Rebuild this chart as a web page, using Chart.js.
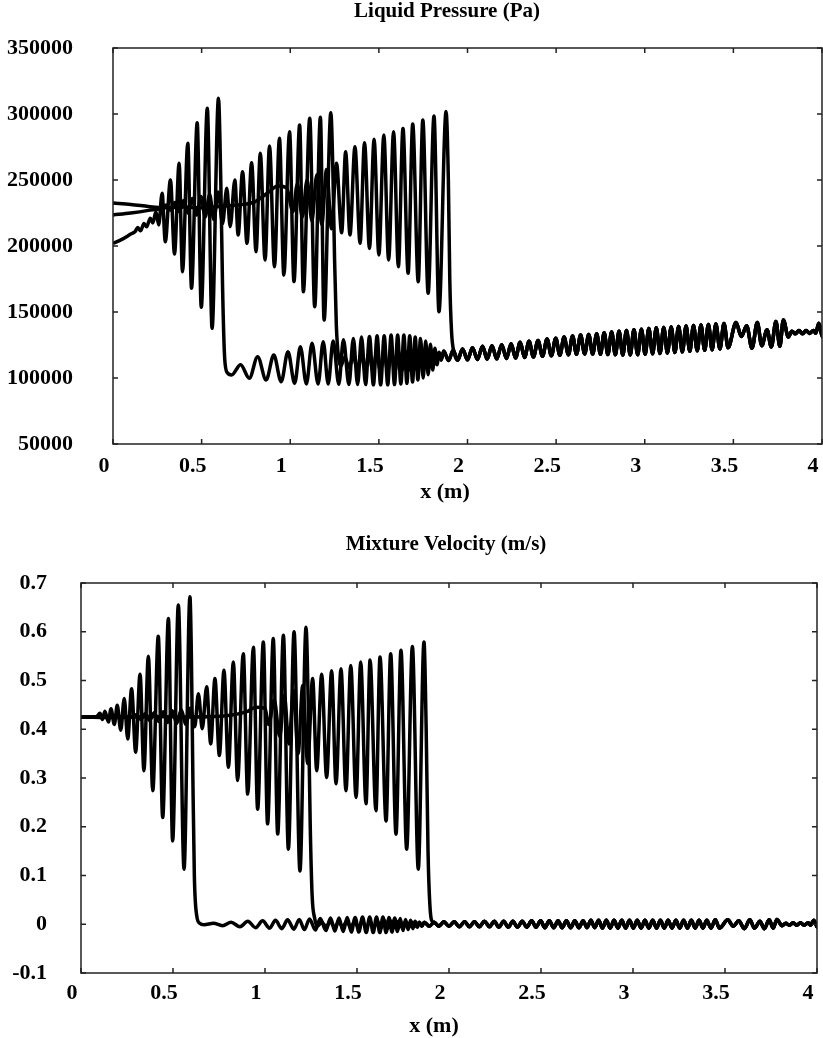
<!DOCTYPE html>
<html>
<head>
<meta charset="utf-8">
<script src="https://cdn.jsdelivr.net/npm/chart.js@4.4.1/dist/chart.umd.min.js"></script>
<style>
  body { margin: 0; background: #fff; }
  canvas { position: absolute; left: 0; }
  #pressure { top: 0; }
  #velocity { top: 528px; }
</style>
</head>
<body>
<canvas id="pressure" width="823" height="510"></canvas>
<canvas id="velocity" width="823" height="510"></canvas>
<script>
// ---- shared x positions (m) ----
// front A (wave front near 0.63 m), read peak by peak
var aHeadX_p = [0, 0.05, 0.10, 0.125, 0.14, 0.155, 0.175, 0.19, 0.21, 0.225, 0.242, 0.258,
  0.277, 0.295, 0.324, 0.347, 0.373, 0.392, 0.422, 0.443, 0.475, 0.498, 0.532, 0.559, 0.595,
  0.608, 0.618, 0.630, 0.645];
var aHeadP = [202000, 205000, 209000, 211000, 214000, 211500, 217000, 214500, 221000, 217500, 226000, 216000,
  240000, 203300, 250000, 194000, 262600, 180500, 277800, 168000, 293400, 153600, 304300, 137600, 311900,
  250000, 170000, 115000, 104000];

var aHeadX_u = [0, 0.05, 0.085, 0.103, 0.116, 0.130, 0.149, 0.163, 0.181, 0.197, 0.216, 0.235, 0.254,
  0.275, 0.297, 0.321, 0.342, 0.366, 0.390, 0.420, 0.444, 0.475, 0.498, 0.529, 0.560, 0.592,
  0.600, 0.608, 0.616, 0.628, 0.645];
var aHeadU = [0.425, 0.425, 0.426, 0.433, 0.420, 0.437, 0.415, 0.442, 0.410, 0.449, 0.398, 0.463, 0.380,
  0.483, 0.353, 0.513, 0.315, 0.550, 0.274, 0.591, 0.219, 0.627, 0.171, 0.655, 0.113, 0.672,
  0.55, 0.30, 0.10, 0.02, 0.002];

// region after front A (same x for pressure and velocity)
var aMidX = [0.669, 0.720, 0.769, 0.816, 0.864, 0.907, 0.949, 0.987, 1.025, 1.057,
  1.091, 1.123, 1.157, 1.186, 1.214, 1.242, 1.274, 1.300, 1.331, 1.356,
  1.380, 1.402, 1.425, 1.447, 1.469, 1.490, 1.510, 1.530, 1.550, 1.569,
  1.588, 1.606, 1.624, 1.641, 1.658, 1.674, 1.690, 1.705, 1.720, 1.735,
  1.750, 1.764, 1.778, 1.791, 1.804, 1.816, 1.828, 1.840, 1.852];
var aMidP = [102300, 110000, 99800, 116100, 98500, 117400, 97200, 119900, 96000, 123700,
  95500, 126300, 95500, 127500, 95500, 128000, 95300, 129000, 95000, 130000,
  95000, 131000, 95000, 131500, 94800, 132000, 94800, 132000, 94800, 132500,
  95000, 132500, 95500, 132500, 96000, 132000, 97000, 131000, 98500, 130000,
  100000, 128000, 102500, 125500, 106000, 122500, 110000, 119500, 114000];
var aMidU = [-0.001, 0.002, -0.003, 0.004, -0.005, 0.006, -0.007, 0.007, -0.008, 0.008,
  -0.009, 0.009, -0.010, 0.010, -0.011, 0.011, -0.012, 0.012, -0.013, 0.013,
  -0.014, 0.013, -0.015, 0.014, -0.016, 0.014, -0.016, 0.015, -0.017, 0.015,
  -0.017, 0.015, -0.017, 0.015, -0.017, 0.014, -0.016, 0.013, -0.015, 0.012,
  -0.013, 0.010, -0.011, 0.008, -0.009, 0.006, -0.006, 0.004, -0.004];

// front B (near 1.27 m)
var bHeadX_p = [0, 0.10, 0.20, 0.28,
  0.300, 0.324, 0.349, 0.373, 0.398, 0.422, 0.447, 0.471, 0.496, 0.520, 0.545, 0.569, 0.594, 0.618, 0.642,
  0.661, 0.6875, 0.706, 0.731, 0.756, 0.782, 0.807, 0.831, 0.858, 0.883, 0.911, 0.939, 0.964, 0.996,
  1.021, 1.053, 1.074, 1.110, 1.138, 1.170, 1.191, 1.229,
  1.240, 1.250, 1.260, 1.272];
var bHeadP = [223500, 225000, 227000, 229000,
  231000, 227000, 233000, 226000, 234500, 225000, 236000, 223500, 237500, 222000, 239000, 220000, 241000, 217000, 243700,
  214600, 250000, 208300, 256300, 202000, 263100, 195700, 270200, 189400, 275800, 184300, 281600, 178000, 286600,
  173000, 291700, 165400, 296700, 154000, 297500, 143900, 301000,
  260000, 190000, 140000, 116000];

var bHeadX_u = [0, 0.10, 0.20, 0.28,
  0.300, 0.324, 0.349, 0.373, 0.398, 0.422, 0.447, 0.471, 0.496, 0.520, 0.545, 0.569, 0.594, 0.618,
  0.638, 0.659, 0.683, 0.705, 0.728, 0.752, 0.777, 0.801, 0.828, 0.851, 0.882, 0.906, 0.937, 0.960,
  0.991, 1.014, 1.045, 1.069, 1.100, 1.127, 1.158, 1.190, 1.223,
  1.235, 1.246, 1.256, 1.270];
var bHeadU = [0.425, 0.425, 0.425, 0.426,
  0.430, 0.420, 0.432, 0.418, 0.434, 0.416, 0.436, 0.414, 0.438, 0.412, 0.440, 0.410, 0.443, 0.405,
  0.473, 0.401, 0.487, 0.370, 0.504, 0.346, 0.521, 0.322, 0.538, 0.295, 0.555, 0.267, 0.568, 0.236,
  0.579, 0.206, 0.586, 0.185, 0.593, 0.154, 0.600, 0.109, 0.609,
  0.45, 0.20, 0.06, 0.012];

var bPostX = [1.285, 1.308, 1.332, 1.355, 1.378, 1.400, 1.422, 1.444, 1.466, 1.487,
  1.508, 1.529, 1.550, 1.570, 1.590, 1.610, 1.630, 1.650, 1.669, 1.688,
  1.707, 1.726, 1.745, 1.764, 1.783, 1.802, 1.821, 1.838, 1.852];
var bPostP = [109000, 116000, 107500, 117000, 106500, 118000, 106000, 118500, 105500, 119000,
  105500, 119500, 105000, 120000, 105000, 120000, 105500, 120000, 106000, 119500,
  107000, 119000, 108000, 118500, 109500, 118000, 111000, 118000, 113500];
var bPostU = [-0.004, 0.004, -0.005, 0.005, -0.006, 0.005, -0.006, 0.006, -0.007, 0.006,
  -0.007, 0.007, -0.008, 0.007, -0.008, 0.007, -0.008, 0.007, -0.008, 0.006,
  -0.007, 0.006, -0.006, 0.005, -0.005, 0.004, -0.004, 0.004, -0.004];

// front C (near 1.93 m)
var cHeadX_p = [0, 0.10, 0.20, 0.28, 0.40, 0.50, 0.60, 0.70, 0.80, 0.87, 0.93, 0.98,
  1.015, 1.040, 1.068, 1.095, 1.122, 1.150, 1.178, 1.205, 1.233, 1.261, 1.290,
  1.3125, 1.337, 1.365, 1.394, 1.419, 1.447, 1.473, 1.500, 1.528, 1.555, 1.583, 1.610, 1.636,
  1.665, 1.691, 1.722, 1.748, 1.778, 1.811, 1.839, 1.879,
  1.892, 1.900, 1.910, 1.925];
var cHeadP = [232500, 231500, 230000, 229000, 229500, 229000, 230000, 231000, 233500, 240000, 245500, 244000,
  226000, 247000, 222000, 250000, 219000, 254000, 216000, 258000, 213000, 262600, 210000,
  271400, 208300, 275200, 202000, 278300, 198200, 280800, 193200, 284100, 189400, 286600, 184300, 289100,
  179300, 292400, 173000, 295500, 164200, 298500, 150200, 301800,
  250000, 175000, 135000, 119000];

var cHeadX_u = [0, 0.20, 0.40, 0.60, 0.80, 0.90, 0.95, 1.00,
  1.020, 1.050, 1.080, 1.105, 1.130, 1.155, 1.180, 1.205, 1.232,
  1.259, 1.281, 1.308, 1.335, 1.362, 1.386, 1.413, 1.440, 1.466, 1.495, 1.520, 1.549,
  1.571, 1.603, 1.625, 1.658, 1.683, 1.712, 1.739, 1.770, 1.801, 1.833, 1.864,
  1.876, 1.886, 1.896, 1.910];
var cHeadU = [0.425, 0.424, 0.426, 0.425, 0.428, 0.436, 0.445, 0.443,
  0.410, 0.460, 0.385, 0.470, 0.370, 0.480, 0.350, 0.490, 0.330,
  0.504, 0.315, 0.513, 0.301, 0.520, 0.288, 0.524, 0.274, 0.531, 0.260, 0.538, 0.247,
  0.542, 0.233, 0.548, 0.212, 0.555, 0.185, 0.562, 0.154, 0.570, 0.113, 0.579,
  0.40, 0.15, 0.04, 0.005];

// ripples ahead of the last front, shared by the three curves
var tailX = [1.866, 1.893, 1.919, 1.945, 1.972, 2.000, 2.028, 2.056, 2.085, 2.111,
  2.138, 2.165, 2.193, 2.220, 2.246, 2.271, 2.297, 2.322, 2.347, 2.372,
  2.398, 2.423, 2.449, 2.473, 2.498, 2.521, 2.545, 2.569, 2.593, 2.615,
  2.638, 2.661, 2.684, 2.706, 2.729, 2.750, 2.771, 2.792, 2.813, 2.834,
  2.855, 2.876, 2.897, 2.918, 2.939, 2.960, 2.981, 3.002, 3.023, 3.044,
  3.065, 3.086, 3.107, 3.128, 3.149, 3.170, 3.191, 3.212, 3.233, 3.254,
  3.275, 3.296, 3.317, 3.338, 3.359, 3.380, 3.401, 3.424, 3.447, 3.470,
  3.515, 3.545, 3.575, 3.605, 3.635, 3.660, 3.690, 3.714, 3.740, 3.762,
  3.782, 3.810, 3.830, 3.850, 3.870, 3.890, 3.910, 3.930, 3.952, 3.965,
  3.982, 4.003, 4.025];
var tailP = [120500, 113200, 121000, 113500, 122000, 113800, 123000, 114000, 124000, 114300,
  124500, 114500, 125200, 114800, 126000, 115200, 127000, 115600, 127800, 116000,
  128500, 116400, 129500, 116800, 130200, 117200, 131000, 117600, 131800, 118000,
  132500, 118200, 133000, 118100, 133500, 118000, 134200, 117800, 134800, 117600,
  135400, 117400, 136000, 117500, 136500, 117700, 137000, 118000, 137500, 118300,
  138000, 118600, 138300, 119000, 138700, 119400, 139000, 119800, 139400, 120200,
  139800, 120600, 140200, 121000, 140600, 121400, 141000, 122000, 141300, 123000,
  142000, 131500, 139500, 122500, 142000, 124500, 136500, 123500, 142800, 124000,
  144000, 131000, 135500, 133500, 136000, 133500, 136000, 133800, 136000, 134000,
  141500, 131000, 137000];
var tailU = [0.004, -0.004, 0.004, -0.004, 0.005, -0.004, 0.005, -0.005, 0.005, -0.005,
  0.005, -0.005, 0.006, -0.005, 0.006, -0.006, 0.006, -0.006, 0.006, -0.006,
  0.006, -0.006, 0.007, -0.006, 0.007, -0.007, 0.007, -0.007, 0.007, -0.007,
  0.007, -0.007, 0.007, -0.007, 0.007, -0.007, 0.008, -0.007, 0.008, -0.008,
  0.008, -0.008, 0.008, -0.008, 0.008, -0.008, 0.008, -0.008, 0.008, -0.008,
  0.008, -0.008, 0.008, -0.008, 0.008, -0.008, 0.008, -0.008, 0.008, -0.008,
  0.008, -0.008, 0.008, -0.008, 0.008, -0.008, 0.008, -0.008, 0.009, -0.008,
  0.009, -0.004, 0.007, -0.009, 0.009, -0.008, 0.006, -0.009, 0.009, -0.008,
  0.010, -0.003, 0.002, -0.002, 0.003, -0.002, 0.003, -0.002, 0.003, -0.002,
  0.008, -0.006, 0.004];

var xTicks = [0, 0.5, 1, 1.5, 2, 2.5, 3, 3.5, 4];

function pts(xs, ys) {
  return xs.map(function (x, i) { return { x: x, y: ys[i] }; });
}
function after(xs, ys, x0) {
  return pts(xs, ys).filter(function (p) { return p.x > x0; });
}

var serif = '"Liberation Serif", "DejaVu Serif", serif';
Chart.defaults.font.family = serif;
Chart.defaults.color = '#000';

// frame with inward ticks on all sides + chart titles
function framePlugin(title, tx, ty, xTitle, xx, xy) {
  return {
    id: 'frame',
    afterDraw: function (chart) {
      var ctx = chart.ctx, a = chart.chartArea, sx = chart.scales.x, sy = chart.scales.y;
      ctx.save();
      ctx.strokeStyle = '#222';
      ctx.lineWidth = 1.5;
      ctx.strokeRect(a.left, a.top, a.right - a.left, a.bottom - a.top);
      ctx.beginPath();
      sx.ticks.forEach(function (t) {
        var p = sx.getPixelForValue(t.value);
        ctx.moveTo(p, a.bottom); ctx.lineTo(p, a.bottom - 5);
        ctx.moveTo(p, a.top); ctx.lineTo(p, a.top + 5);
      });
      sy.ticks.forEach(function (t) {
        var p = sy.getPixelForValue(t.value);
        ctx.moveTo(a.left, p); ctx.lineTo(a.left + 5, p);
        ctx.moveTo(a.right, p); ctx.lineTo(a.right - 5, p);
      });
      ctx.stroke();
      ctx.fillStyle = '#000';
      ctx.textAlign = 'center';
      ctx.textBaseline = 'middle';
      ctx.font = 'bold 21px ' + serif;
      ctx.fillText(title, tx, ty);
      ctx.font = 'bold 22px ' + serif;
      ctx.fillText(xTitle, xx, xy);
      ctx.restore();
    }
  };
}

function line(data) {
  return {
    data: data,
    borderColor: '#000',
    borderWidth: 3.5,
    pointRadius: 0,
    fill: false,
    cubicInterpolationMode: 'monotone'
  };
}

function makeChart(id, datasets, yopt, box, plugin) {
  return new Chart(document.getElementById(id), {
    type: 'line',
    data: { datasets: datasets },
    options: {
      responsive: false,
      animation: false,
      devicePixelRatio: 1,
      layout: { padding: { top: box.top, right: box.right, left: 0, bottom: 0 } },
      plugins: { legend: { display: false }, tooltip: { enabled: false } },
      scales: {
        x: {
          type: 'linear', min: 0, max: 4,
          grid: { display: false, drawTicks: false },
          border: { display: false },
          afterBuildTicks: function (s) { s.ticks = xTicks.map(function (v) { return { value: v }; }); },
          afterFit: function (s) { s.height = box.xh; s.paddingLeft = 0; s.paddingRight = 0; },
          ticks: {
            autoSkip: false, maxRotation: 0, padding: box.xpad, labelOffset: -9,
            font: { size: 22, weight: 'bold' },
            callback: function (v) { return String(Math.round(v * 10) / 10); }
          }
        },
        y: {
          type: 'linear', min: yopt.min, max: yopt.max,
          grid: { display: false, drawTicks: false },
          border: { display: false },
          afterBuildTicks: function (s) { s.ticks = yopt.ticks.map(function (v) { return { value: v }; }); },
          afterFit: function (s) { s.width = box.left; s.paddingTop = 0; s.paddingBottom = 0; },
          ticks: {
            padding: box.ypad,
            font: { size: 22, weight: 'bold' },
            callback: yopt.fmt
          }
        }
      }
    },
    plugins: [plugin]
  });
}

// ---- Liquid pressure ----
var pTicks = [50000, 100000, 150000, 200000, 250000, 300000, 350000];
makeChart('pressure', [
  line(pts(aHeadX_p, aHeadP).concat(pts(aMidX, aMidP), pts(tailX, tailP))),
  line(pts(bHeadX_p, bHeadP).concat(pts(bPostX, bPostP), pts(tailX, tailP))),
  line(pts(cHeadX_p, cHeadP).concat(after(tailX, tailP, 1.925)))
], {
  min: 50000, max: 350000, ticks: pTicks,
  fmt: function (v) { return String(v); }
}, { top: 48, right: 1, left: 113, xh: 66, xpad: 9, ypad: 40 },
  framePlugin('Liquid Pressure (Pa)', 447, 12, 'x (m)', 445, 492));

// ---- Mixture velocity ----
var uTicks = [-0.1, 0, 0.1, 0.2, 0.3, 0.4, 0.5, 0.6, 0.7];
makeChart('velocity', [
  line(pts(aHeadX_u, aHeadU).concat(pts(aMidX, aMidU), pts(tailX, tailU))),
  line(pts(bHeadX_u, bHeadU).concat(pts(bPostX, bPostU), pts(tailX, tailU))),
  line(pts(cHeadX_u, cHeadU).concat(after(tailX, tailU, 1.91)))
], {
  min: -0.1, max: 0.7, ticks: uTicks,
  fmt: function (v) { return String(Math.round(v * 10) / 10); }
}, { top: 55, right: 6, left: 81, xh: 65, xpad: 7, ypad: 34 },
  framePlugin('Mixture Velocity (m/s)', 446, 17, 'x (m)', 434, 498));
</script>
</body>
</html>
